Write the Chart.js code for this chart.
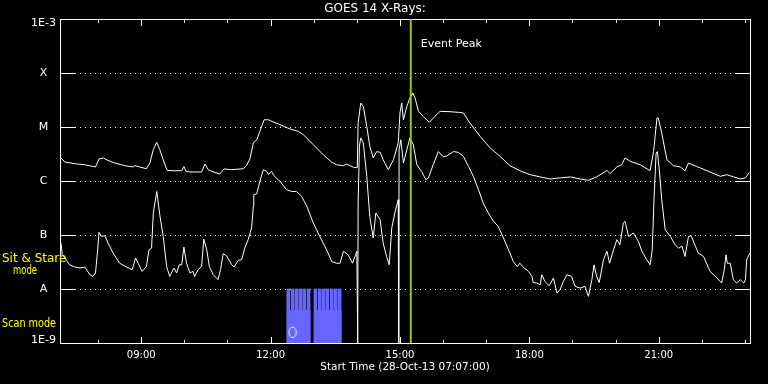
<!DOCTYPE html>
<html><head><meta charset="utf-8">
<script src="https://cdn.jsdelivr.net/npm/chart.js@4.4.1/dist/chart.umd.min.js"></script>
<style>html,body{margin:0;padding:0;background:#000;overflow:hidden}canvas{display:block}</style>
</head><body>
<canvas id="c" width="768" height="384"></canvas>
<script>
// ---- data (time in decimal hours UT, flux in W/m^2) ----
const longTimes = [7.14,7.23,7.46,7.69,7.94,8.02,8.12,8.23,8.39,8.62,8.81,8.85,9.12,9.20,9.28,9.36,9.43,9.51,9.60,9.74,9.94,9.99,10.04,10.13,10.40,10.48,10.55,10.71,10.82,10.92,11.10,11.37,11.44,11.52,11.60,11.68,11.75,11.85,11.95,12.06,12.26,12.45,12.64,12.76,12.99,13.22,13.42,13.53,13.69,13.76,13.92,14.01,14.03,14.09,14.15,14.23,14.30,14.38,14.46,14.54,14.61,14.73,14.85,14.96,15.00,15.04,15.08,15.16,15.23,15.30,15.35,15.43,15.54,15.68,15.81,15.93,16.16,16.39,16.47,16.62,16.86,17.09,17.32,17.55,17.78,18.02,18.25,18.48,18.71,18.95,19.18,19.37,19.56,19.80,19.87,20.03,20.14,20.22,20.34,20.57,20.80,20.88,20.96,20.99,21.07,21.19,21.34,21.50,21.61,21.69,21.88,22.12,22.43,22.58,22.73,22.89,23.01,23.10];
const longFlux = [2.67e-6,2.25e-6,2.09e-6,2.0e-6,1.82e-6,2.55e-6,2.67e-6,2.40e-6,2.15e-6,1.92e-6,1.82e-6,1.92e-6,1.69e-6,2.15e-6,3.8e-6,5.2e-6,3.8e-6,2.48e-6,1.57e-6,1.55e-6,1.55e-6,1.86e-6,1.51e-6,1.47e-6,1.47e-6,2.07e-6,1.62e-6,1.44e-6,1.35e-6,1.67e-6,1.62e-6,1.69e-6,1.92e-6,2.55e-6,5.1e-6,5.8e-6,8.3e-6,1.36e-5,1.36e-5,1.24e-5,1.07e-5,9.2e-6,8.3e-6,7.2e-6,4.7e-6,3.07e-6,2.21e-6,2.0e-6,1.92e-6,2.05e-6,1.80e-6,1.76e-6,1.19e-5,2.78e-5,2.40e-5,1.03e-5,4.4e-6,2.67e-6,3.5e-6,3.4e-6,2.48e-6,1.62e-6,2.48e-6,5.1e-6,1.82e-5,2.78e-5,1.36e-5,2.40e-5,3.44e-5,4.27e-5,3.44e-5,1.95e-5,1.57e-5,1.22e-5,1.57e-5,1.95e-5,1.92e-5,1.86e-5,1.82e-5,1.19e-5,6.7e-6,4.1e-6,2.86e-6,1.92e-6,1.55e-6,1.31e-6,1.19e-6,1.09e-6,1.14e-6,1.19e-6,1.09e-6,1.03e-6,1.19e-6,1.57e-6,1.37e-6,1.82e-6,2.0e-6,2.67e-6,2.31e-6,2.0e-6,1.55e-6,3.5e-6,1.47e-5,1.47e-5,7.7e-6,2.48e-6,1.92e-6,1.82e-6,1.55e-6,2.15e-6,1.86e-6,1.55e-6,1.22e-6,1.31e-6,1.19e-6,1.09e-6,1.14e-6,1.44e-6];
const shortTimes = [7.14,7.17,7.23,7.34,7.46,7.58,7.69,7.81,7.88,7.94,7.99,8.02,8.08,8.16,8.23,8.35,8.50,8.66,8.79,8.87,8.93,9.02,9.12,9.18,9.24,9.28,9.36,9.43,9.51,9.59,9.66,9.76,9.82,9.88,9.94,9.99,10.05,10.13,10.20,10.24,10.32,10.40,10.45,10.52,10.58,10.67,10.78,10.84,10.90,10.98,11.10,11.15,11.25,11.33,11.40,11.48,11.56,11.60,11.61,11.68,11.75,11.83,11.91,11.95,12.02,12.08,12.22,12.37,12.49,12.60,12.72,12.84,12.99,13.14,13.30,13.42,13.53,13.61,13.69,13.80,13.90,14.00,14.02,14.03,14.06,14.09,14.15,14.23,14.30,14.38,14.44,14.54,14.61,14.69,14.75,14.81,14.88,14.96,14.97,14.98,15.02,15.08,15.16,15.23,15.31,15.39,15.50,15.60,15.66,15.77,15.89,16.01,16.08,16.24,16.35,16.47,16.59,16.70,16.82,16.93,17.05,17.17,17.28,17.40,17.55,17.63,17.72,17.78,17.88,17.98,18.06,18.09,18.17,18.25,18.29,18.36,18.46,18.56,18.64,18.71,18.79,18.87,18.98,19.06,19.18,19.29,19.37,19.45,19.50,19.56,19.62,19.72,19.80,19.86,19.95,20.03,20.10,20.18,20.22,20.30,20.41,20.53,20.61,20.72,20.80,20.85,20.89,20.94,20.97,21.02,21.07,21.15,21.27,21.38,21.46,21.54,21.61,21.69,21.75,21.85,21.92,22.04,22.19,22.35,22.46,22.52,22.56,22.59,22.66,22.73,22.81,22.89,22.97,23.01,23.04,23.11];
const shortFlux = [7.1e-8,4.3e-8,3.75e-8,2.8e-8,2.55e-8,2.45e-8,2.55e-8,1.84e-8,1.71e-8,1.98e-8,5.3e-8,1.12e-7,9.4e-8,9.7e-8,7.1e-8,4.6e-8,3.0e-8,2.55e-8,2.28e-8,3.75e-8,3.0e-8,2.12e-8,2.6e-8,5.3e-8,5.7e-8,2.55e-7,6.4e-7,2.38e-7,9.4e-8,2.6e-8,1.71e-8,2.45e-8,1.98e-8,2.8e-8,2.8e-8,6.0e-8,3.0e-8,1.98e-8,2.12e-8,1.71e-8,2.28e-8,2.6e-8,8.4e-8,5.3e-8,2.6e-8,1.84e-8,1.49e-8,2.28e-8,4.5e-8,4.1e-8,2.8e-8,2.55e-8,3.4e-8,3.5e-8,5.7e-8,8.2e-8,1.35e-7,3.4e-7,5.6e-7,5.8e-7,9.8e-7,1.62e-6,1.51e-6,1.31e-6,1.51e-6,1.25e-6,9.8e-7,6.9e-7,6.4e-7,6.4e-7,5.2e-7,3.4e-7,1.67e-7,9.4e-8,5.3e-8,3.2e-8,3.0e-8,3.0e-8,5.0e-8,4.3e-8,3.0e-8,5.0e-8,1e-9,3.9e-7,4.4e-6,6.3e-6,5.1e-6,1.22e-6,2.2e-7,8.8e-8,2.55e-7,1.92e-7,7.1e-8,4.0e-8,2.8e-8,1.35e-7,2.55e-7,4.5e-7,1e-9,3.8e-6,5.8e-6,2.15e-6,3.8e-6,6.3e-6,4.7e-6,2.0e-6,1.51e-6,1.06e-6,1.14e-6,2.0e-6,3.5e-6,2.8e-6,2.9e-6,3.5e-6,3.4e-6,2.86e-6,1.86e-6,1.22e-6,6.9e-7,3.9e-7,2.55e-7,1.79e-7,1.44e-7,8.8e-8,4.6e-8,3.2e-8,2.6e-8,3.0e-8,2.45e-8,2.12e-8,1.71e-8,1.32e-8,1.29e-8,1.20e-8,1.84e-8,1.38e-8,1.15e-8,1.60e-8,8.4e-9,9.7e-9,1.38e-8,1.84e-8,1.71e-8,1.12e-8,1.04e-8,1.12e-8,7.3e-9,1.49e-8,2.8e-8,1.71e-8,1.32e-8,3.5e-8,5.0e-8,3.0e-8,5.3e-8,8.2e-8,6.6e-8,1.67e-7,1.79e-7,9.4e-8,1.09e-7,7.6e-8,5.0e-8,3.5e-8,2.8e-8,5.3e-8,4.5e-7,3.3e-6,3.5e-6,1.41e-6,4.5e-7,1.25e-7,9.4e-8,6.6e-8,5.7e-8,6.2e-8,4.0e-8,9.4e-8,9.7e-8,6.2e-8,4.6e-8,4.0e-8,2.12e-8,1.60e-8,1.29e-8,2.28e-8,4.3e-8,3.0e-8,3.0e-8,1.49e-8,1.29e-8,1.49e-8,1.29e-8,1.49e-8,3.5e-8,4.6e-8];

const yTickValues = [1e-9,1e-8,1e-7,1e-6,1e-5,1e-4,1e-3];
const yTickLabels = ['1E-9','A','B','C','M','X','1E-3'];
const xLabelHours = [9,12,15,18,21];
const xTickLabels = ['09:00','12:00','15:00','18:00','21:00'];
const xMinorHours = [8,10,11,13,14,16,17,19,20,22,23];
const timeStart = 7 + 7/60;
const timeEnd = 23 + 7/60;
const titleText = 'GOES 14 X-Rays:';
const xTitleText = 'Start Time (28-Oct-13 07:07:00)';
const eventPeakTime = 15.25;
const eventPeakLabel = 'Event Peak';
const scanBlockStart = [12.37, 13.00];
const scanBlockEnd = [12.93, 13.65];
const scanBlockLevel = 4.1e-9;
const scanTeethTimes = [12.41,12.51,12.60,12.69,12.78,12.88,13.04,13.14,13.23,13.32,13.42,13.51,13.60];
const scanTeethRange = [1e-9, 1e-8];
const markerTime = 12.51;
const markerFlux = 1.58e-9;

// ---- chart ----
const FONT = "'DejaVu Sans', 'Liberation Sans', sans-serif";
Chart.defaults.font.family = FONT;
Chart.defaults.color = '#ffffff';

const marker = document.createElement('canvas');
marker.width = 10; marker.height = 13;
(function(){ const m = marker.getContext('2d'); m.strokeStyle = '#fff'; m.lineWidth = 1;
  m.beginPath(); m.ellipse(5, 6.5, 3.6, 5.2, 0, 0, Math.PI*2); m.stroke(); })();

const datasets = [
  { type:'line', data:[{x:eventPeakTime,y:1e-3},{x:eventPeakTime,y:1e-9}], borderColor:'#99cc00', borderWidth:2, pointRadius:0 },
  { type:'line', data: longTimes.map((t,i)=>({x:t,y:longFlux[i]})), borderColor:'#ffffff', borderWidth:1, pointRadius:0, tension:0 },
  { type:'line', data: shortTimes.map((t,i)=>({x:t,y:shortFlux[i]})), borderColor:'#ffffff', borderWidth:1, pointRadius:0, tension:0 },
  { type:'scatter', data:[{x:markerTime,y:markerFlux}], pointStyle: marker, pointRadius:5 },
  { type:'bar', data: scanTeethTimes.map(t=>({x:t,y:scanTeethRange})), backgroundColor:'#6666ff', borderWidth:0, barThickness:3 }
];
scanBlockStart.forEach((s,i)=>{
  datasets.push({ type:'line', data:[{x:s,y:scanBlockLevel},{x:scanBlockEnd[i],y:scanBlockLevel}], fill:'start',
    backgroundColor:'#6666ff', borderColor:'#6666ff', borderWidth:0, pointRadius:0 });
});

const framePlugin = {
  id:'frame',
  beforeDatasetsDraw(chart){
    const {ctx, chartArea:a, scales:{x, y}} = chart;
    ctx.save();
    ctx.strokeStyle = '#fff'; ctx.lineWidth = 1;
    ctx.setLineDash([1,4]);
    yTickValues.slice(1,-1).forEach(v=>{
      const py = Math.round(y.getPixelForValue(v)) + 0.5;
      ctx.beginPath(); ctx.moveTo(a.left, py); ctx.lineTo(a.right, py); ctx.stroke();
    });
    ctx.setLineDash([]);
    ctx.strokeRect(a.left + 0.5, a.top + 0.5, a.right - a.left, a.bottom - a.top);
    yTickValues.slice(1,-1).forEach(v=>{
      const py = Math.round(y.getPixelForValue(v)) + 0.5;
      ctx.beginPath();
      ctx.moveTo(a.left, py); ctx.lineTo(a.left + 15, py);
      ctx.moveTo(a.right - 14, py); ctx.lineTo(a.right + 1, py);
      ctx.stroke();
    });
    const drawT = (h, len) => {
      const px = Math.round(x.getPixelForValue(h)) + 0.5;
      ctx.beginPath();
      ctx.moveTo(px, a.top); ctx.lineTo(px, a.top + len);
      ctx.moveTo(px, a.bottom + 1); ctx.lineTo(px, a.bottom + 1 - len);
      ctx.stroke();
    };
    xLabelHours.forEach(h=>drawT(h, 7));
    xMinorHours.forEach(h=>drawT(h, 4));
    ctx.restore();
  },
  afterDraw(chart){
    const {ctx, scales:{x}} = chart;
    ctx.save();
    ctx.textBaseline = 'middle'; ctx.textAlign = 'left';
    ctx.fillStyle = '#ffffff';
    ctx.font = '11px ' + FONT;
    ctx.fillText(eventPeakLabel, x.getPixelForValue(eventPeakTime) + 10, 44);
    ctx.fillStyle = '#ffff00';
    ctx.font = '12px ' + FONT;
    ctx.fillText('Sit & Stare', 2, 259, 65);
    ctx.fillText('mode', 13, 271, 24);
    ctx.fillText('Scan mode', 2, 324, 54);
    ctx.restore();
  }
};

new Chart(document.getElementById('c'), {
  type:'line',
  data:{ datasets },
  options:{
    responsive:false, animation:false, devicePixelRatio:1, events:[],
    layout:{ padding:{ left:0, right:18, top:0, bottom:0 } },
    plugins:{
      legend:{display:false}, tooltip:{enabled:false},
      title:{ display:true, text:titleText, color:'#fff', font:{family:FONT, size:12, weight:'normal', lineHeight:1}, padding:{top:3, bottom:4} }
    },
    scales:{
      x:{
        type:'linear', min:timeStart, max:timeEnd, offset:false,
        grid:{display:false, drawTicks:false}, border:{display:false},
        afterBuildTicks: s => { s.ticks = xLabelHours.map(v=>({value:v})); },
        afterFit: s => { s.height = 41; },
        ticks:{ color:'#fff', padding:6, autoSkip:false, maxRotation:0, font:{size:10}, callback:(v,i)=>xTickLabels[i] },
        title:{ display:true, text:xTitleText, color:'#fff', font:{size:10.5}, padding:{top:0, bottom:10} }
      },
      y:{
        type:'logarithmic', min:1e-9, max:1e-3,
        grid:{display:false, drawTicks:false}, border:{display:false},
        afterBuildTicks: s => { s.ticks = yTickValues.map(v=>({value:v})); },
        afterFit: s => { s.width = 60; },
        ticks:{
          color:'#fff', padding:4, crossAlign:'center', autoSkip:false,
          font: c => ({ family:FONT, size:11, lineHeight: c.index === 0 ? 0.55 : (c.index === yTickValues.length-1 ? 0.67 : 1.2) }),
          callback:(v,i)=> i === 0 ? [yTickLabels[i], ''] : (i === yTickLabels.length-1 ? ['', yTickLabels[i]] : yTickLabels[i])
        }
      }
    }
  },
  plugins:[framePlugin]
});
</script>
</body></html>
